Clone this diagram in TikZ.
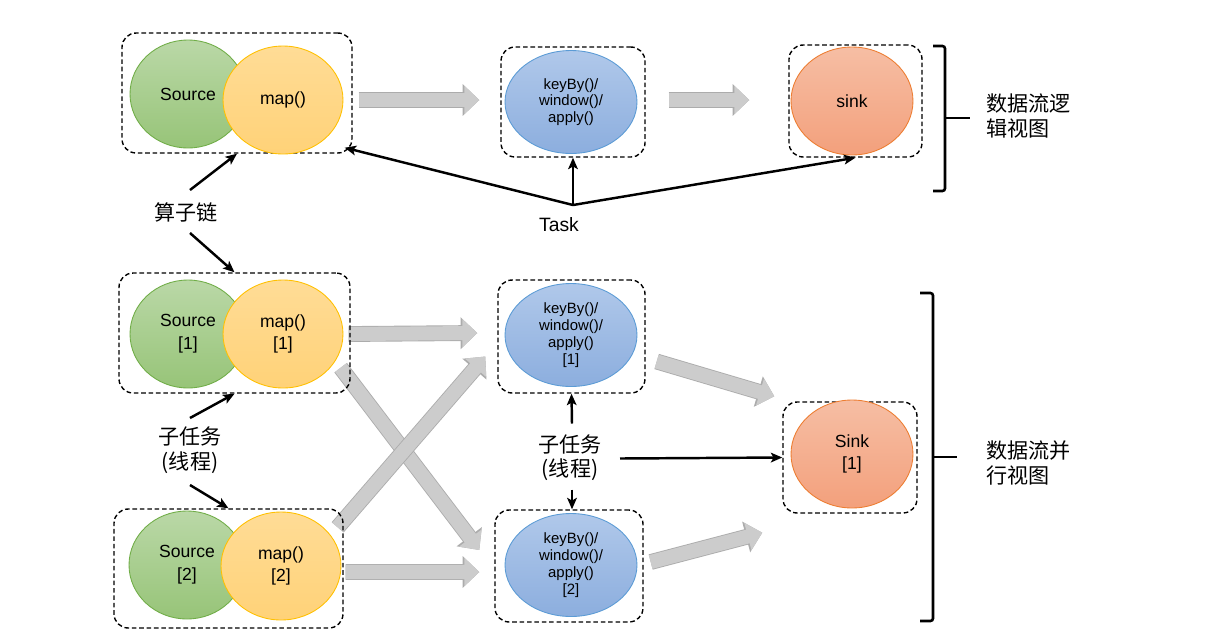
\documentclass[tikz,border=0pt]{standalone}
\usepackage{fontspec}
\setmainfont{Liberation Sans}
\newfontfamily\cjk{Noto Sans CJK SC}
\usetikzlibrary{shapes.geometric,arrows.meta,backgrounds}

\begin{document}
\begin{tikzpicture}[x=0.02cm, y=-0.02cm, thick,
	grp/.style = {draw, dash pattern=on 2.6pt off 1.6pt, rounded corners=8pt, line width=0.8pt},
	ell/.style = {ellipse, draw, line width=0.5pt, align=center, inner sep=0pt, font=\fontsize{10}{13}\selectfont},
	src/.style = {ell, draw={rgb,255:red,112;green,173;blue,71}, top color={rgb,255:red,186;green,216;blue,167}, bottom color={rgb,255:red,151;green,196;blue,120}, minimum width=2.32cm, minimum height=2.16cm},
	op/.style = {ell, draw={rgb,255:red,255;green,192;blue,0}, top color={rgb,255:red,255;green,220;blue,150}, bottom color={rgb,255:red,255;green,210;blue,120}, minimum width=2.4cm, minimum height=2.16cm},
	win/.style = {ell, draw={rgb,255:red,91;green,155;blue,213}, top color={rgb,255:red,176;green,200;blue,234}, bottom color={rgb,255:red,140;green,174;blue,222}, minimum width=2.64cm, minimum height=2.06cm, font=\fontsize{8.5}{9.6}\selectfont},
	snk/.style = {ell, draw={rgb,255:red,237;green,125;blue,49}, top color={rgb,255:red,246;green,190;blue,164}, bottom color={rgb,255:red,243;green,160;blue,124}, minimum width=2.44cm, minimum height=2.16cm},
	arr/.style = {draw, line width=1.4pt, -{Stealth[length=6.5pt, width=5.5pt, inset=1.5pt]}},
	flow/.style = {draw={rgb,255:red,204;green,204;blue,204}, line width=8pt, -{Triangle[length=8.5pt, width=15.5pt]},
		preaction={draw={rgb,255:red,172;green,172;blue,172}, line width=9pt, -{Triangle[length=9.5pt, width=17.5pt]}}},
	lbl/.style = {align=center, font=\cjk\fontsize{12}{14}\selectfont},
	brc/.style = {draw, line width=1.5pt, rounded corners=1.5pt}]
	\useasboundingbox (0,0) rectangle (1218,637);

	\node[grp, minimum width=4.6cm, minimum height=2.4cm] (chain0) at (237,93) {};
	\node[grp, minimum width=2.88cm, minimum height=2.2cm] (win0) at (573,102) {};
	\node[grp, minimum width=2.66cm, minimum height=2.24cm] (sink0) at (855.5,101) {};
	\node[grp, minimum width=4.62cm, minimum height=2.4cm] (chain1) at (234.5,333) {};
	\node[grp, minimum width=2.94cm, minimum height=2.26cm] (win1) at (571.5,336.5) {};
	\node[grp, minimum width=2.68cm, minimum height=2.22cm] (sink1) at (850,457.5) {};
	\node[grp, minimum width=4.58cm, minimum height=2.38cm] (chain2) at (228.5,568.5) {};
	\node[grp, minimum width=2.96cm, minimum height=2.24cm] (win2) at (569,566) {};

	\node[src] (src0) at (188,94) {Source};
	\node[op] (map0) at (283,100) {map()};
	\node[win] (kb0) at (571,102) {keyBy()/\\window()/\\apply()};
	\node[snk] (sk0) at (852,101) {sink};
	\node[src] (src1) at (188,334) {Source\\{[1]}};
	\node[op] (map1) at (283,334) {map()\\{[1]}};
	\node[win] (kb1) at (571,335) {keyBy()/\\window()/\\apply()\\{[1]}};
	\node[snk] (sk1) at (852,454) {Sink\\{[1]}};
	\node[src] (src2) at (187,565) {Source\\{[2]}};
	\node[op] (map2) at (281,566) {map()\\{[2]}};
	\node[win] (kb2) at (571,565) {keyBy()/\\window()/\\apply()\\{[2]}};

	\begin{scope}[on background layer]
		\draw[flow] ([shift={(6,7)}]chain0.east) -- ([shift={(-21,-2)}]win0.west);
		\draw[flow] ([shift={(23,-2)}]win0.east) -- ([shift={(-39,-1)}]sink0.west);
		\draw[flow] ([shift={(-2,1)}]chain1.east) -- ([shift={(-20,-3.5)}]win1.west);
		\draw[flow] ([shift={(-10,-26)}]chain1.south east) -- ([shift={(-15,-16)}]win2.west);
		\draw[flow] ([shift={(-6,19)}]chain2.north east) -- ([shift={(-12,20)}]win1.west);
		\draw[flow] ([shift={(2,3.5)}]chain2.east) -- ([shift={(-15,6)}]win2.west);
		\draw[flow] ([shift={(11,25)}]win1.east) -- ([shift={(-8,-5)}]sink1.north west);
		\draw[flow] ([shift={(7,-4)}]win2.east) -- ([shift={(-20,19)}]sink1.south west);
	\end{scope}

	\coordinate (hub) at (573,205);
	\node[font=\fontsize{11}{13}\selectfont] (task) at (559,225) {Task};
	\draw[arr] (hub) -- ([shift={(-8,-6)}]chain0.south east);
	\draw[arr] (hub) -- (win0.south);
	\draw[arr] (hub) -- (sink0.south);

	\node[lbl] (oplbl) at (186,212) {算子链};
	\node[lbl] (sublbl) at (190,450) {子任务\\(线程)};
	\node[lbl] (sublbl2) at (570,457.5) {子任务\\(线程)};
	\draw[arr] ([shift={(4,-22)}]oplbl.center) -- (chain0.south);
	\draw[arr] ([shift={(4,21)}]oplbl.center) -- (chain1.north);
	\draw[arr] ([shift={(0,-32)}]sublbl.center) -- (chain1.south);
	\draw[arr] ([shift={(0,35)}]sublbl.center) -- (chain2.north);
	\draw[arr] ([shift={(2,-34)}]sublbl2.center) -- (win1.south);
	\draw[arr] ([shift={(2,32)}]sublbl2.center) -- ([shift={(3,0)}]win2.north);
	\draw[arr] ([shift={(50,1)}]sublbl2.center) -- (sink1.west);

	\draw[brc] (933,46) -- (945,46) -- (945,191) -- (933,191);
	\draw[brc] (945,118) -- (970,118);
	\draw[brc] (920,293) -- (933,293) -- (933,621) -- (920,621);
	\draw[brc] (933,457) -- (957,457);
	\node[lbl, align=left, anchor=west] (logic) at (980,116) {数据流逻\\辑视图};
	\node[lbl, align=left, anchor=west] (para) at (980,463) {数据流并\\行视图};
\end{tikzpicture}
\end{document}
